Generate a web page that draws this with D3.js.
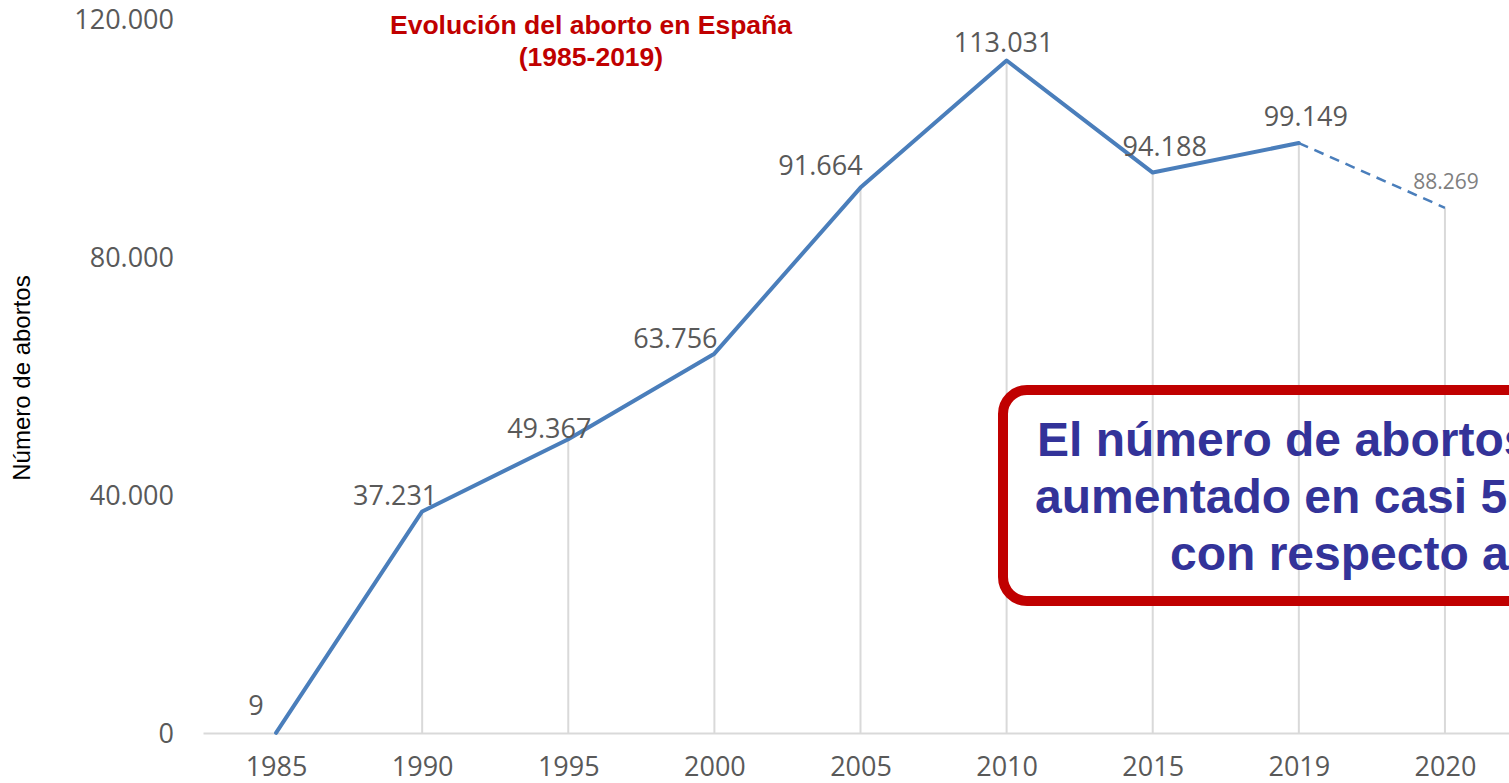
<!DOCTYPE html>
<html><head><meta charset="utf-8">
<script src="https://cdn.jsdelivr.net/npm/d3@7"></script>
<style>
html,body{margin:0;padding:0;background:#fff;overflow:hidden}
svg{display:block}
</style></head>
<body>
<svg id="c" width="1509" height="783"></svg>
<script>
// ---- data ----
const years = ["1985","1990","1995","2000","2005","2010","2015","2019","2020"];
const abortos = [9, 37231, 49367, 63756, 91664, 113031, 94188, 99149, 88269];
const yTicks = [0, 40000, 80000, 120000];
const titleLines = ["Evolución del aborto en España", "(1985-2019)"];
const yTitle = "Número de abortos";
const noteLines = ["El número de abortos se ha", "aumentado en casi 5.000", "con respecto a 2015"];

// ---- layout (label offsets relative to each point) ----
const labelDx = [-20, -27, -19, -39, -40, -3, 12, 7, 1];
const labelDy = [-18, -6, -1, -6, -13, -8, -17, -17, -19];

const svg = d3.select("#c");
const x = d3.scalePoint().domain(years).range([203, 1518]).padding(0.5);
const y = d3.scaleLinear().domain([0, 120000]).range([733, 19]);
const loc = d3.formatLocale({decimal: ",", thousands: ".", grouping: [3], currency: ["", "€"]});
const fmt = loc.format(",d");

const FONT = "'Open Sans', 'Noto Sans', sans-serif";
const ARIAL = "'Liberation Sans', Arial, sans-serif";

// drop lines
svg.append("g").selectAll("line").data(years.map((d,i)=>({d, v: abortos[i]})))
  .join("line")
  .attr("x1", d=>x(d.d)).attr("x2", d=>x(d.d))
  .attr("y1", d=>y(d.v)).attr("y2", y(0))
  .attr("stroke", "#d9d9d9").attr("stroke-width", 2);

// y axis
const ya = svg.append("g").attr("transform", "translate(203,0)")
  .call(d3.axisLeft(y).tickValues(yTicks).tickFormat(fmt).tickSize(0).tickPadding(29));
ya.select(".domain").remove();
ya.selectAll("text").attr("font-family", FONT).attr("font-size", 27).attr("fill", "#595959").attr("dy", "0.35em");

// x axis
const xa = svg.append("g").attr("transform", `translate(0,${y(0)})`)
  .call(d3.axisBottom(x).tickSize(0).tickPadding(24));
xa.select(".domain").attr("stroke", "#d9d9d9").attr("stroke-width", 2);
xa.selectAll("text").attr("font-family", FONT).attr("font-size", 27).attr("fill", "#595959");

// line (solid up to 2019, dashed to 2020)
const pts = years.map((d,i)=>[x(d), y(abortos[i])]);
const line = d3.line();
svg.append("path").attr("d", line(pts.slice(0, 8)))
  .attr("fill", "none").attr("stroke", "#4a7ebb").attr("stroke-width", 4)
  .attr("stroke-linejoin", "round").attr("stroke-linecap", "round");
svg.append("path").attr("d", line(pts.slice(7, 9)))
  .attr("fill", "none").attr("stroke", "#4a7ebb").attr("stroke-width", 2.5)
  .attr("stroke-dasharray", "10,7");

// data labels
svg.append("g").selectAll("text").data(years.map((d,i)=>({d, v: abortos[i], i})))
  .join("text")
  .attr("x", d=>x(d.d) + labelDx[d.i])
  .attr("y", d=>y(d.v) + labelDy[d.i])
  .attr("text-anchor", "middle")
  .attr("font-family", FONT)
  .attr("font-size", d=>d.i === 8 ? 21 : 27)
  .attr("fill", d=>d.i === 8 ? "#7f7f7f" : "#595959")
  .text(d=>fmt(d.v));

// title
svg.append("g").selectAll("text").data(titleLines).join("text")
  .attr("x", 591).attr("y", (d,i)=>34 + i*32)
  .attr("text-anchor", "middle")
  .attr("font-family", ARIAL).attr("font-weight", "bold").attr("font-size", 26.5)
  .attr("fill", "#c00000").text(d=>d);

// y title
svg.append("text")
  .attr("transform", "translate(30,378) rotate(-90)")
  .attr("text-anchor", "middle")
  .attr("font-family", ARIAL).attr("font-size", 24).attr("fill", "#000")
  .text(yTitle);

// annotation box
svg.append("rect")
  .attr("x", 1003).attr("y", 390).attr("width", 620).attr("height", 211)
  .attr("rx", 24).attr("ry", 24)
  .attr("fill", "none").attr("stroke", "#c00000").attr("stroke-width", 10);
const noteX = [1037, 1035, 1170];
svg.append("g").selectAll("text").data(noteLines).join("text")
  .attr("x", (d,i)=>noteX[i]).attr("y", (d,i)=>456 + i*57)
  .attr("font-family", ARIAL).attr("font-weight", "bold").attr("font-size", 48)
  .attr("fill", "#333399").text(d=>d);
</script>
</body></html>
